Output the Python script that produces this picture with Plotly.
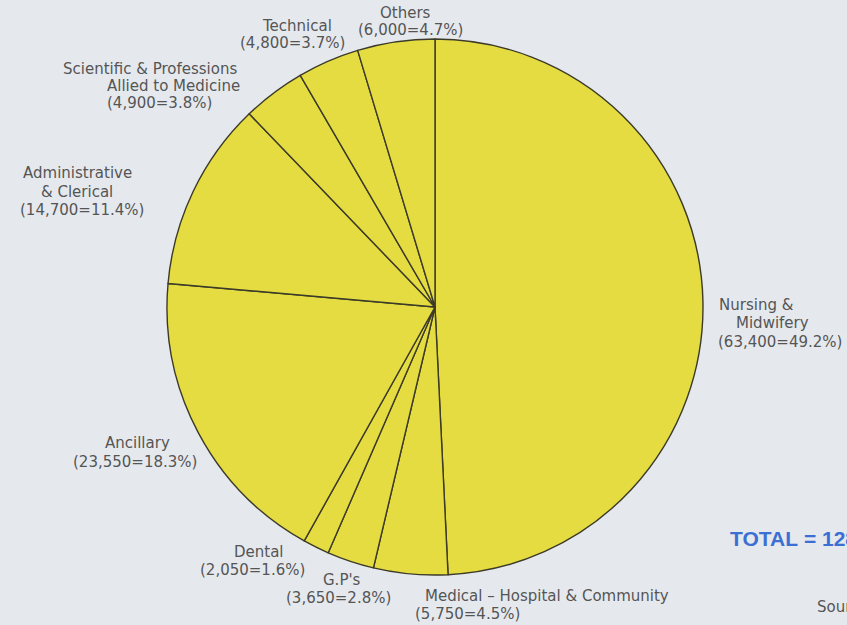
import plotly.graph_objects as go

# ---- data ----
categories = ["Nursing & Midwifery", "Medical - Hospital & Community", "G.P's", "Dental",
              "Ancillary", "Administrative & Clerical",
              "Scientific & Professions Allied to Medicine", "Technical", "Others"]
staff = [63400, 5750, 3650, 2050, 23550, 14700, 4900, 4800, 6000]
label_lines = [["Nursing &", "Midwifery"], ["Medical – Hospital & Community"], ["G.P's"],
               ["Dental"], ["Ancillary"], ["Administrative", "& Clerical"],
               ["Scientific & Professions", "Allied to Medicine"], ["Technical"], ["Others"]]
total_label = "TOTAL = 128,800"
source_label = "Source:"

# ---- layout of the label lines (pixel centres; last line is the value line) ----
W, H = 847, 625
label_pos = [
    [(756, 305, "center"), (772, 323, "center"), (780, 342, "center")],
    [(547, 596, "center"), (413, 614, "left")],
    [(342, 580, "center"), (338, 598, "center")],
    [(259, 552, "center"), (252, 570, "center")],
    [(137, 443, "center"), (135, 462, "center")],
    [(77, 173, "center"), (77, 192, "center"), (82, 210, "center")],
    [(150, 69, "center"), (173, 86, "center"), (159, 103, "center")],
    [(297, 26, "center"), (292, 43, "center")],
    [(405, 13, "center"), (410, 30, "center")],
]

total = sum(staff)
BG = "#e5e9ee"
YELLOW = "#e4dc40"
TEXT = "#555555"

cx, cy, r = 435, 307, 268
fig = go.Figure(go.Pie(
    labels=categories, values=staff, sort=False, direction="clockwise", rotation=0,
    textinfo="none", hoverinfo="skip", showlegend=False,
    marker=dict(colors=[YELLOW] * len(staff), line=dict(color="#3c3a28", width=1.4)),
    domain=dict(x=[(cx - r) / W, (cx + r) / W], y=[1 - (cy + r) / H, 1 - (cy - r) / H]),
))

annotations = []
for lines, val, pos in zip(label_lines, staff, label_pos):
    pct = val / total * 100
    texts = list(lines) + [f"({val:,}={pct:.1f}%)"]
    for t, (x, y, anc) in zip(texts, pos):
        annotations.append(dict(
            text=t, x=x / W, y=1 - y / H, xref="paper", yref="paper",
            xanchor=anc, yanchor="middle", showarrow=False,
            font=dict(family="DejaVu Sans", size=15, color=TEXT)))

annotations.append(dict(text=f"<b>{total_label.replace(' ', '&nbsp;')}</b>",
                        x=728 / W, y=1 - 538 / H,
                        xref="paper", yref="paper", xanchor="left", yanchor="middle",
                        showarrow=False,
                        font=dict(family="Liberation Sans", size=21, color="#3b6fd3")))
annotations.append(dict(text=source_label, x=815 / W, y=1 - 607 / H,
                        xref="paper", yref="paper", xanchor="left", yanchor="middle",
                        showarrow=False,
                        font=dict(family="DejaVu Sans", size=15, color=TEXT)))

fig.update_layout(
    width=W, height=H, margin=dict(l=0, r=0, t=0, b=0),
    paper_bgcolor=BG, plot_bgcolor=BG, annotations=annotations,
)
fig.write_html("out.html")
